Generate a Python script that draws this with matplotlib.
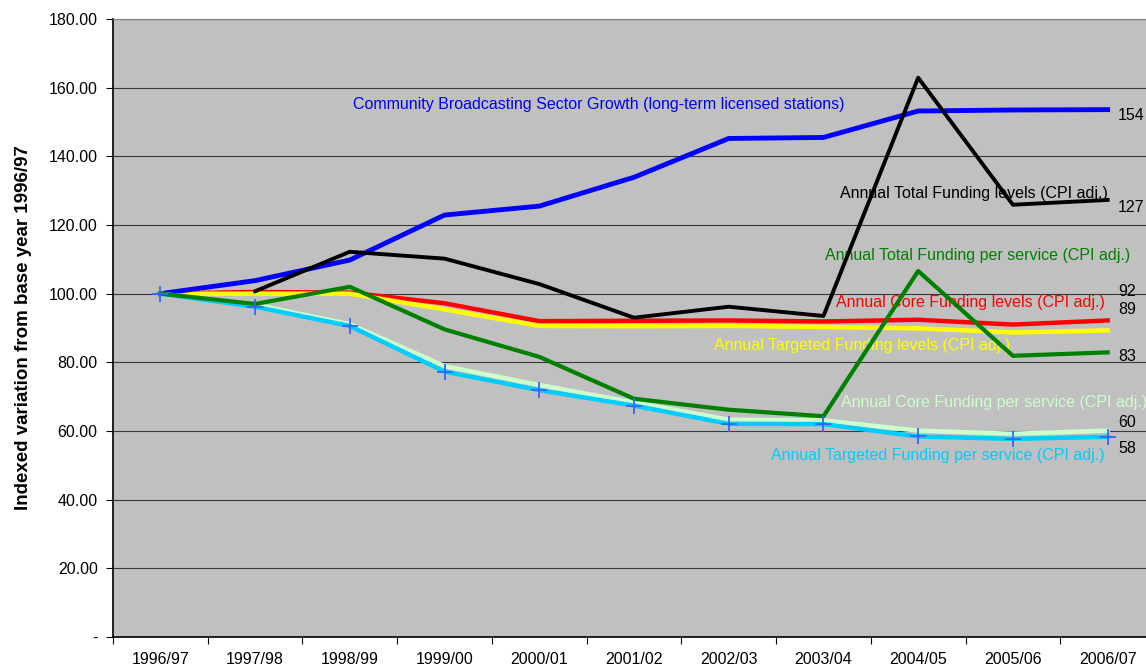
import matplotlib.pyplot as plt
import numpy as np

plt.rcParams['font.family'] = ['Liberation Sans', 'DejaVu Sans']
fontsize = 11.5

# Data (index, base year 1996/97 = 100)
years = ['1996/97', '1997/98', '1998/99', '1999/00', '2000/01', '2001/02',
         '2002/03', '2003/04', '2004/05', '2005/06', '2006/07']
sector_growth = [100, 103.8, 109.8, 122.9, 125.5, 133.9, 145.2, 145.5, 153.2, 153.5, 153.6]
total_funding = [100, 100.7, 112.2, 110.2, 102.8, 93.0, 96.2, 93.5, 162.9, 125.9, 127.3]
core_funding = [100, 100.5, 100.3, 97.2, 92.0, 92.1, 92.2, 91.9, 92.4, 91.0, 92.2]
targeted_funding = [100, 100, 100, 95.4, 90.6, 90.5, 90.6, 90.3, 89.9, 88.7, 89.3]
total_per_service = [100, 97.0, 102.0, 89.6, 81.6, 69.4, 66.2, 64.3, 106.6, 81.9, 82.9]
core_per_service = [100, 96.8, 91.1, 78.9, 73.4, 68.3, 63.3, 63.1, 60.1, 59.2, 60.1]
targeted_per_service = [100, 96.2, 90.6, 77.3, 71.9, 67.4, 62.1, 62.0, 58.4, 57.7, 58.3]

x = np.arange(len(years))

fig = plt.figure(figsize=(11.46, 6.66), dpi=100)
ax = fig.add_axes([113/1146, 29/666, 1042/1146, 618/666])
ax.set_facecolor('#C0C0C0')

# Linien
ax.plot(x, sector_growth, color='#0000FF', lw=3.5, zorder=4)
ax.plot(x, core_funding, color='#FF0000', lw=3.2, zorder=3)
ax.plot(x, targeted_funding, color='#FFFF00', lw=3.2, zorder=3)
ax.plot(x[1:], total_funding[1:], color='black', lw=2.8, zorder=5)
ax.plot(x, total_per_service, color='#008000', lw=3.0, zorder=5)
ax.plot(x, core_per_service, color='#CCFFCC', lw=3.2, zorder=4)
ax.plot(x, targeted_per_service, color='#00CCFF', lw=3.2, zorder=4)
ax.plot(x, targeted_per_service, ls='none', marker='+', ms=11, mew=1.3,
        color='#3366FF', zorder=6)

# Beschriftungen der Linien
tkw = dict(fontsize=fontsize, zorder=2, va='center')
ax.text(4.63, 155.0, 'Community Broadcasting Sector Growth (long-term licensed stations)',
        color='#0000FF', ha='center', **tkw)
ax.text(10.0, 129.3, 'Annual Total Funding levels (CPI adj.)', color='black', ha='right', **tkw)
ax.text(10.24, 111.0, 'Annual Total Funding per service (CPI adj.)', color='#008000', ha='right', **tkw)
ax.text(9.97, 97.3, 'Annual Core Funding levels (CPI adj.)', color='#FF0000', ha='right', **tkw)
ax.text(8.97, 84.8, 'Annual Targeted Funding levels (CPI adj.)', color='#FFFF00', ha='right', **tkw)
ax.text(7.18, 68.2, 'Annual Core Funding per service (CPI adj.)', color='#CCFFCC', ha='left', **tkw)
ax.text(9.97, 53.0, 'Annual Targeted Funding per service (CPI adj.)', color='#00CCFF', ha='right', **tkw)

# Endwerte
end_series = [(sector_growth, 151.8), (total_funding, 125.0), (core_funding, 100.5),
              (targeted_funding, 95.5), (total_per_service, 81.6),
              (core_per_service, 62.6), (targeted_per_service, 54.8)]
for s, ypos in end_series:
    ax.text(10.11, ypos, f'{round(s[-1])}', color='black', ha='left', **tkw)

# Achsen
ax.set_xlim(-0.5, 10.5)
ax.set_ylim(0, 180)
ax.set_yticks(np.arange(0, 181, 20))
ax.set_yticklabels(['-'] + [f'{v:.2f}' for v in np.arange(20, 181, 20)])
ax.yaxis.grid(True, color='black', lw=0.8, alpha=0.7)
ax.set_axisbelow(True)

ax.set_xticks(np.arange(-0.5, 11, 1))
ax.set_xticklabels([])
ax.set_xticks(x, minor=True)
ax.set_xticklabels(years, minor=True)
ax.tick_params(axis='x', which='minor', length=0, pad=11, labelsize=fontsize)
ax.tick_params(axis='x', which='major', length=5, direction='out')
ax.tick_params(axis='y', length=5, direction='out', labelsize=fontsize, pad=6)

ax.spines['right'].set_visible(False)
ax.spines['top'].set_color('#808080')
ax.spines['left'].set_linewidth(1.2)
ax.spines['bottom'].set_linewidth(1.2)

ax.set_ylabel('Indexed variation from base year 1996/97', fontsize=13.5,
              fontweight='bold', labelpad=12)

plt.savefig('out.png', dpi=100)
